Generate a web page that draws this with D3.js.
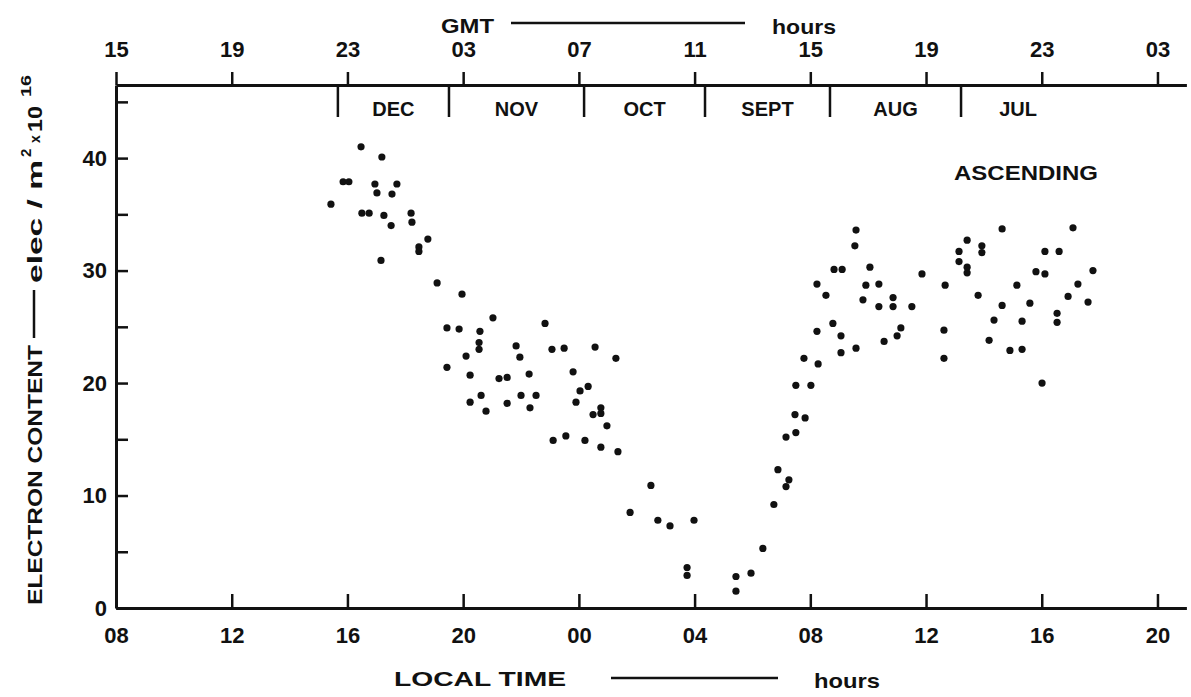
<!DOCTYPE html>
<html>
<head>
<meta charset="utf-8">
<script src="https://cdn.jsdelivr.net/npm/d3@7"></script>
<style>
  body { margin: 0; background: #fff; }
  svg { display: block; }
  text { font-family: "Liberation Sans", Arial, sans-serif; font-weight: bold; fill: #111; }
</style>
</head>
<body>
<div id="chart"></div>
<script>
// Local time in continuous hours (08 on day 1 = 8, midnight = 24), electron content in 1e16 el/m2
var localTime = [
  16.47, 17.19, 15.85, 16.05, 16.95, 17.71, 17.02, 17.54, 15.43, 16.50,
  16.75, 17.26, 18.20, 18.23, 17.51, 18.78, 18.47, 18.47, 17.16, 19.10,
  19.96, 21.03, 22.83, 19.44, 19.86, 20.58, 20.55, 20.55, 21.83, 23.07,
  23.49, 20.10, 21.96, 19.44, 20.24, 22.28, 21.24, 21.52, 23.80, 24.04,
  24.32, 23.90, 20.24, 20.62, 20.79, 21.52, 22.00, 22.52, 22.31, 23.11,
  23.55, 24.21, 24.56, 25.28, 24.76, 24.76, 24.49, 24.97, 24.76, 25.35,
  26.49, 25.77, 26.73, 27.15, 27.98, 27.74, 27.74, 29.43, 29.43, 29.95,
  30.36, 30.74, 30.88, 31.16, 31.26, 31.16, 31.50, 31.47, 31.82, 31.50,
  32.02, 31.78, 32.23, 32.27, 33.54, 33.58, 32.82, 33.10, 34.06, 32.23,
  32.54, 33.92, 34.37, 33.82, 34.37, 34.86, 34.86, 35.51, 35.86, 32.78,
  33.06, 33.06, 33.58, 34.55, 35.13, 35.00, 36.66, 36.62, 36.62, 37.14,
  37.14, 37.42, 37.42, 37.42, 37.93, 37.93, 37.80, 38.63, 39.14, 38.63,
  38.35, 38.18, 39.59, 39.32, 38.90, 39.32, 40.11, 40.60, 39.80, 40.11,
  40.53, 40.53, 40.01, 41.08, 41.25, 40.91, 41.77, 41.60
];
var electronContent = [
  41.0, 40.1, 37.9, 37.9, 37.7, 37.7, 36.9, 36.8, 35.9, 35.1,
  35.1, 34.9, 35.1, 34.3, 34.0, 32.8, 32.1, 31.7, 30.9, 28.9,
  27.9, 25.8, 25.3, 24.9, 24.8, 24.6, 23.6, 23.0, 23.3, 23.0,
  23.1, 22.4, 22.3, 21.4, 20.7, 20.8, 20.4, 20.5, 21.0, 19.3,
  19.7, 18.3, 18.3, 18.9, 17.5, 18.2, 18.9, 18.9, 17.8, 14.9,
  15.3, 14.9, 23.2, 22.2, 17.8, 17.3, 17.2, 16.2, 14.3, 13.9,
  10.9, 8.5, 7.8, 7.3, 7.8, 3.6, 2.9, 2.8, 1.5, 3.1,
  5.3, 9.2, 12.3, 10.8, 11.4, 15.2, 15.6, 17.2, 16.9, 19.8,
  19.8, 22.2, 24.6, 21.7, 32.2, 33.6, 30.1, 30.1, 30.3, 28.8,
  27.8, 28.7, 28.8, 27.4, 26.8, 27.6, 26.8, 26.8, 29.7, 25.3,
  24.2, 22.7, 23.1, 23.7, 24.9, 24.2, 28.7, 24.7, 22.2, 31.7,
  30.8, 32.7, 30.3, 29.8, 32.2, 31.6, 27.8, 33.7, 28.7, 26.9,
  25.6, 23.8, 27.1, 25.5, 22.9, 23.0, 31.7, 31.7, 29.9, 29.7,
  26.2, 25.4, 20.0, 33.8, 28.8, 27.7, 30.0, 27.2
];

var localTicks = [8, 12, 16, 20, 24, 28, 32, 36, 40, 44];
var localTickLabels = ["08", "12", "16", "20", "00", "04", "08", "12", "16", "20"];
var gmtTickLabels = ["15", "19", "23", "03", "07", "11", "15", "19", "23", "03"];
var yTicks = [0, 5, 10, 15, 20, 25, 30, 35, 40, 45];
var yTickLabels = ["0", "", "10", "", "20", "", "30", "", "40", ""];

// month bands along the top (local time of boundaries)
var monthNames = ["DEC", "NOV", "OCT", "SEPT", "AUG", "JUL"];
var monthEdges = [15.67, 19.51, 24.18, 28.36, 32.68, 37.21, 41.15];

var width = 1191, height = 697;

var svg = d3.select("#chart").append("svg")
    .attr("width", width)
    .attr("height", height);

var x = d3.scaleLinear().domain([8, 45]).range([116, 1186.4]);
var y = d3.scaleLinear().domain([0, 46.5]).range([608, 85]);

function styleAxis(g, size) {
  g.select(".domain").attr("stroke", "#111").attr("stroke-width", 3);
  g.selectAll(".tick line").attr("stroke", "#111").attr("stroke-width", 2.5);
  g.selectAll(".tick text")
    .attr("font-size", size)
    .attr("font-family", "Liberation Sans, Arial, sans-serif")
    .attr("fill", "#111");
}

// bottom: local time
var xBottom = svg.append("g")
    .attr("transform", "translate(0," + y(0) + ")")
    .call(d3.axisBottom(x)
      .tickValues(localTicks)
      .tickFormat(function(d, i) { return localTickLabels[i]; })
      .tickSizeInner(-14)
      .tickSizeOuter(0)
      .tickPadding(19));
styleAxis(xBottom, 22);

// top: GMT
var xTop = svg.append("g")
    .attr("transform", "translate(0," + y(46.5) + ")")
    .call(d3.axisTop(x)
      .tickValues(localTicks)
      .tickFormat(function(d, i) { return gmtTickLabels[i]; })
      .tickSizeInner(13)
      .tickSizeOuter(0)
      .tickPadding(15));
styleAxis(xTop, 22);

// left: electron content
var yAxis = svg.append("g")
    .attr("transform", "translate(" + x(8) + ",0)")
    .call(d3.axisLeft(y)
      .tickValues(yTicks)
      .tickFormat(function(d, i) { return yTickLabels[i]; })
      .tickSizeInner(-12)
      .tickSizeOuter(0)
      .tickPadding(9));
styleAxis(yAxis, 22);

// month dividers
svg.append("g").selectAll("line")
    .data(monthEdges.slice(0, monthNames.length))
    .enter().append("line")
    .attr("x1", function(d) { return x(d); })
    .attr("x2", function(d) { return x(d); })
    .attr("y1", y(46.5))
    .attr("y2", y(46.5) + 32)
    .attr("stroke", "#111")
    .attr("stroke-width", 2.5);

svg.append("g").selectAll("text")
    .data(monthNames)
    .enter().append("text")
    .attr("x", function(d, i) { return x((monthEdges[i] + monthEdges[i + 1]) / 2); })
    .attr("y", y(46.5) + 31)
    .attr("text-anchor", "middle")
    .attr("font-size", 20)
    .text(function(d) { return d; });

// data points
svg.append("g").selectAll("circle")
    .data(localTime)
    .enter().append("circle")
    .attr("cx", function(d) { return x(d); })
    .attr("cy", function(d, i) { return y(electronContent[i]); })
    .attr("r", 3.6)
    .attr("fill", "#111");

svg.append("text")
    .attr("x", 954)
    .attr("y", 180)
    .attr("font-size", 21)
    .attr("textLength", 144)
    .attr("lengthAdjust", "spacingAndGlyphs")
    .text("ASCENDING");

// GMT header
svg.append("text").attr("x", 441).attr("y", 33).attr("font-size", 21)
    .attr("textLength", 53).attr("lengthAdjust", "spacingAndGlyphs").text("GMT");
svg.append("line").attr("x1", 511).attr("x2", 745).attr("y1", 23).attr("y2", 23)
    .attr("stroke", "#111").attr("stroke-width", 2.5);
svg.append("text").attr("x", 772).attr("y", 34).attr("font-size", 21)
    .attr("textLength", 64).attr("lengthAdjust", "spacingAndGlyphs").text("hours");

// local time footer
svg.append("text").attr("x", 394).attr("y", 686).attr("font-size", 21)
    .attr("textLength", 172).attr("lengthAdjust", "spacingAndGlyphs").text("LOCAL  TIME");
svg.append("line").attr("x1", 611).attr("x2", 778).attr("y1", 678).attr("y2", 678)
    .attr("stroke", "#111").attr("stroke-width", 2.5);
svg.append("text").attr("x", 814).attr("y", 688).attr("font-size", 21)
    .attr("textLength", 66).attr("lengthAdjust", "spacingAndGlyphs").text("hours");

// y title, rotated
var yt = svg.append("g").attr("transform", "translate(42,608) rotate(-90)");
yt.append("text").attr("x", 3).attr("y", 0).attr("font-size", 21)
    .attr("textLength", 260).attr("lengthAdjust", "spacingAndGlyphs").text("ELECTRON  CONTENT");
yt.append("line").attr("x1", 270).attr("x2", 318).attr("y1", -8).attr("y2", -8)
    .attr("stroke", "#111").attr("stroke-width", 2.5);
yt.append("text").attr("x", 325).attr("y", 0).attr("font-size", 21)
    .attr("textLength", 123).attr("lengthAdjust", "spacingAndGlyphs").text("elec / m");
yt.append("text").attr("x", 451).attr("y", -11).attr("font-size", 15).text("2");
yt.append("text").attr("x", 465).attr("y", -2).attr("font-size", 14).text("x");
yt.append("text").attr("x", 476).attr("y", 0).attr("font-size", 21)
    .attr("textLength", 26).attr("lengthAdjust", "spacingAndGlyphs").text("10");
yt.append("text").attr("x", 511).attr("y", -11).attr("font-size", 15)
    .attr("textLength", 22).attr("lengthAdjust", "spacingAndGlyphs").text("16");
</script>
</body>
</html>
